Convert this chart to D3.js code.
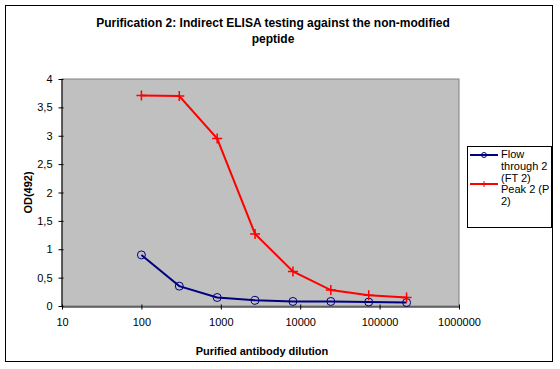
<!DOCTYPE html>
<html>
<head>
<meta charset="utf-8">
<script src="https://cdn.jsdelivr.net/npm/d3@7"></script>
<style>
  body { margin: 0; background: #fff; }
  svg { display: block; font-family: Arial, "Liberation Sans", sans-serif; }
</style>
</head>
<body>
<div id="chart"></div>
<script>

// dilution series (3-fold)
var dilutions = [100, 300, 900, 2700, 8100, 24300, 72900, 218700]
var flowThrough = [0.90, 0.35, 0.15, 0.10, 0.08, 0.08, 0.07, 0.06]
var peak = [3.71, 3.70, 2.95, 1.27, 0.61, 0.28, 0.19, 0.15]
var xTicks = [10, 100, 1000, 10000, 100000, 1000000]
var yTicks = [0, 0.5, 1, 1.5, 2, 2.5, 3, 3.5, 4]

var width = 560, height = 369
var plot = {left: 62, right: 459, top: 79, bottom: 306}

var svg = d3.select('#chart')
    .append('svg')
        .attr('width', width)
        .attr('height', height)

// outer chart border
svg.append('rect')
    .attr('x', 5.5).attr('y', 5.5)
    .attr('width', 547).attr('height', 356)
    .attr('fill', '#fff')
    .attr('stroke', '#000')

var x = d3.scaleLog().domain([10, 1000000]).range([plot.left, plot.right])
var y = d3.scaleLinear().domain([0, 4]).range([plot.bottom, plot.top])

// plot area
svg.append('rect')
    .attr('x', plot.left).attr('y', plot.top)
    .attr('width', plot.right - plot.left).attr('height', plot.bottom - plot.top)
    .attr('fill', '#c0c0c0')
    .attr('stroke', '#808080')

var xAxis = d3.axisBottom(x)
    .tickValues(xTicks)
    .tickFormat(d3.format('d'))
    .tickSizeInner(3).tickSizeOuter(0).tickPadding(9)

var yAxis = d3.axisLeft(y)
    .tickValues(yTicks)
    .tickFormat(function(d) { return String(d).replace('.', ',') })
    .tickSizeInner(3).tickSizeOuter(0).tickPadding(6)

var gx = svg.append('g')
    .attr('transform', 'translate(0,' + (plot.bottom + 0.5) + ')')
    .call(xAxis)
var gy = svg.append('g')
    .attr('transform', 'translate(' + (plot.left - 0.5) + ',0)')
    .call(yAxis)

// cross-style tick marks
gx.selectAll('.tick line').attr('y1', -2).attr('y2', 3)
gy.selectAll('.tick line').attr('x1', 2).attr('x2', -3)

svg.selectAll('.domain').attr('stroke', '#000')
svg.selectAll('.tick line').attr('stroke', '#000')
svg.selectAll('.tick text')
    .attr('font-size', 11)
    .attr('fill', '#000')

// series
var series = [
    {name: 'flow', values: flowThrough, color: '#000080', marker: 'circle'},
    {name: 'peak', values: peak, color: '#ff0000', marker: 'plus'}
]

var line = d3.line()
    .x(function(d) { return x(d[0]) })
    .y(function(d) { return y(d[1]) })

series.forEach(function(s) {
    var pts = dilutions.map(function(d, i) { return [d, s.values[i]] })

    svg.append('path')
        .datum(pts)
        .attr('d', line)
        .attr('fill', 'none')
        .attr('stroke', s.color)
        .attr('stroke-width', 2)

    if (s.marker === 'circle') {
        svg.selectAll('circle.' + s.name)
            .data(pts)
            .enter()
            .append('circle')
            .attr('class', s.name)
            .attr('cx', function(d) { return x(d[0]) })
            .attr('cy', function(d) { return y(d[1]) })
            .attr('r', 4)
            .attr('fill', 'none')
            .attr('stroke', s.color)
            .attr('stroke-width', 1)
    } else {
        svg.selectAll('path.' + s.name)
            .data(pts)
            .enter()
            .append('path')
            .attr('class', s.name)
            .attr('d', function(d) {
                var cx = x(d[0]), cy = y(d[1])
                return 'M' + (cx - 5) + ',' + cy + 'H' + (cx + 5) + 'M' + cx + ',' + (cy - 5) + 'V' + (cy + 5)
            })
            .attr('stroke', s.color)
            .attr('stroke-width', 1.5)
    }
})

// titles
var title = svg.append('text')
    .attr('text-anchor', 'middle')
    .attr('font-size', 12)
    .attr('font-weight', 'bold')
title.append('tspan').attr('x', 273).attr('y', 27).text('Purification 2: Indirect ELISA testing against the non-modified')
title.append('tspan').attr('x', 273).attr('y', 43).text('peptide')

svg.append('text')
    .attr('x', 262).attr('y', 355)
    .attr('text-anchor', 'middle')
    .attr('font-size', 11)
    .attr('font-weight', 'bold')
    .text('Purified antibody dilution')

svg.append('text')
    .attr('transform', 'translate(32,' + ((plot.top + plot.bottom) / 2) + ') rotate(-90)')
    .attr('text-anchor', 'middle')
    .attr('font-size', 11)
    .attr('font-weight', 'bold')
    .text('OD(492)')

// legend
var legend = svg.append('g')
legend.append('rect')
    .attr('x', 467.5).attr('y', 146.5)
    .attr('width', 84).attr('height', 81)
    .attr('fill', '#fff')
    .attr('stroke', '#000')

var legendItems = [
    {color: '#000080', marker: 'circle', y: 155, textY: 158, lines: ['Flow', 'through 2', '(FT 2)']},
    {color: '#ff0000', marker: 'plus', y: 184, textY: 193, lines: ['Peak 2 (P', '2)']}
]

legendItems.forEach(function(item) {
    legend.append('line')
        .attr('x1', 470).attr('x2', 498)
        .attr('y1', item.y).attr('y2', item.y)
        .attr('stroke', item.color)
        .attr('stroke-width', 2)
    if (item.marker === 'circle') {
        legend.append('circle')
            .attr('cx', 484).attr('cy', item.y).attr('r', 2.5)
            .attr('fill', 'none').attr('stroke', item.color)
    } else {
        legend.append('line')
            .attr('x1', 484).attr('x2', 484)
            .attr('y1', item.y - 3).attr('y2', item.y + 3)
            .attr('stroke', item.color)
    }
    var t = legend.append('text')
        .attr('font-size', 11)
        .attr('fill', '#000')
    item.lines.forEach(function(l, i) {
        t.append('tspan')
            .attr('x', 501)
            .attr('y', item.textY + i * 12)
            .text(l)
    })
})

</script>
</body>
</html>
